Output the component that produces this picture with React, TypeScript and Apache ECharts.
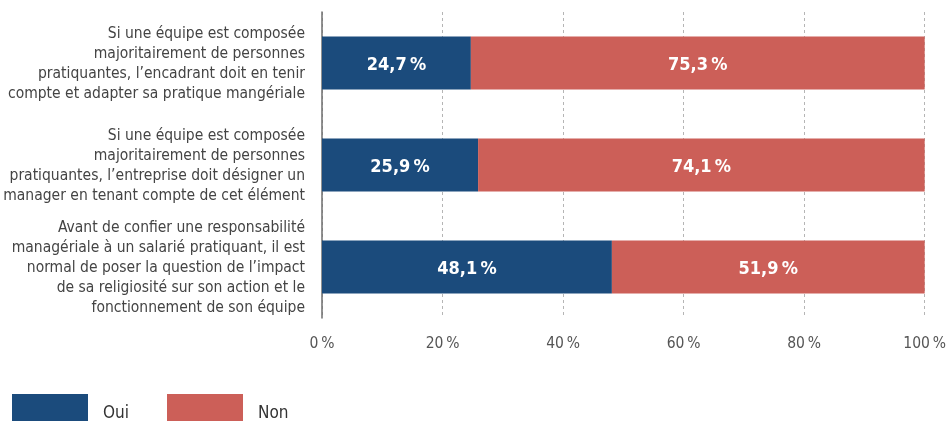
import React, { useEffect, useRef } from "react";
import * as echarts from "echarts";

const categories = [
  "Si une équipe est composée\nmajoritairement de personnes\npratiquantes, l’encadrant doit en tenir\ncompte et adapter sa pratique mangériale",
  "Si une équipe est composée\nmajoritairement de personnes\npratiquantes, l’entreprise doit désigner un\nmanager en tenant compte de cet élément",
  "Avant de confier une responsabilité\nmanagériale à un salarié pratiquant, il est\nnormal de poser la question de l’impact\nde sa religiosité sur son action et le\nfonctionnement de son équipe",
];
const ouiValues = [24.7, 25.9, 48.1];
const nonValues = [75.3, 74.1, 51.9];
const seriesNames = ["Oui", "Non"];
const axisTicks = [0, 20, 40, 60, 80, 100];

const FONT = "'Liberation Sans Narrow', 'DejaVu Sans Condensed', 'Roboto', sans-serif";
const BLUE = "#1b4b7c";
const RED = "#cc5f58";
const COLORS = [BLUE, RED];

const fmt = (v: number) => v.toFixed(1).replace(".", ",") + "\u202F%";

export default function App() {
  const ref = useRef<HTMLDivElement>(null);
  useEffect(() => {
    if (!ref.current) return;
    const chart = echarts.init(ref.current, null, { renderer: "svg" });
    const labelCfg = {
      show: true,
      position: "inside" as const,
      color: "#ffffff",
      fontFamily: FONT,
      fontWeight: "bold" as const,
      fontSize: 18,
      formatter: (p: any) => fmt(p.value),
    };
    const legendX = [12, 167];
    const legendGraphics: any[] = [];
    seriesNames.forEach((n, i) => {
      legendGraphics.push({
        type: "rect",
        left: legendX[i],
        top: 394,
        shape: { width: 76, height: 27 },
        style: { fill: COLORS[i] },
      });
      legendGraphics.push({
        type: "text",
        left: legendX[i] + 91,
        top: 403,
        style: { text: n, fontFamily: FONT, fontSize: 17, fill: "#333" },
      });
    });
    chart.setOption({
      animation: false,
      grid: { left: 322, right: 22, top: 12, bottom: 104, containLabel: false },
      graphic: legendGraphics,
      xAxis: {
        type: "value",
        min: axisTicks[0],
        max: axisTicks[axisTicks.length - 1],
        interval: 20,
        axisLine: { show: false },
        axisTick: { show: false },
        splitLine: { show: true, lineStyle: { type: [3, 3], color: "#b5b5b5", width: 1 } },
        axisLabel: {
          margin: 17,
          color: "#555",
          fontFamily: FONT,
          fontSize: 15.5,
          formatter: (v: number) => v + "\u202F%",
        },
      },
      yAxis: {
        type: "category",
        data: categories,
        inverse: true,
        axisLine: { show: true, lineStyle: { color: "#6e6e6e", width: 1.5 } },
        axisTick: { show: false },
        axisLabel: {
          margin: 17,
          color: "#444",
          fontFamily: FONT,
          fontSize: 15.5,
          lineHeight: 20,
          align: "right",
        },
      },
      series: [
        {
          name: seriesNames[0],
          type: "bar",
          stack: "total",
          data: ouiValues,
          barWidth: 53,
          itemStyle: { color: BLUE },
          label: labelCfg,
        },
        {
          name: seriesNames[1],
          type: "bar",
          stack: "total",
          data: nonValues,
          barWidth: 53,
          itemStyle: { color: RED },
          label: labelCfg,
        },
      ],
    });
    return () => chart.dispose();
  }, []);
  return (
    <div
      ref={ref}
      style={{ position: "fixed", left: 0, top: 0, width: 949, height: 422 }}
    />
  );
}
